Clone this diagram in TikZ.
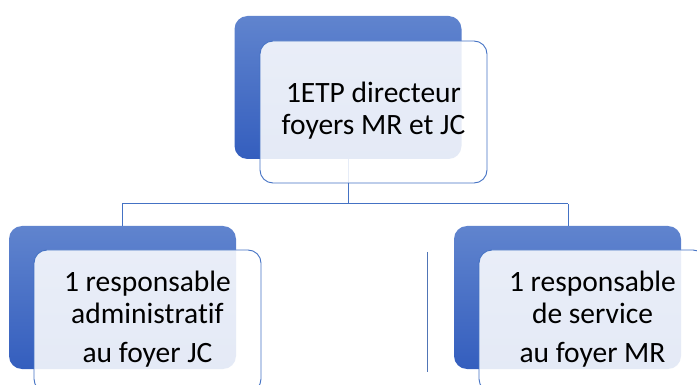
\documentclass[tikz,border=0pt]{standalone}
\usepackage{fontspec}
\setmainfont{Carlito}[Ligatures={NoCommon}]
\definecolor{bluetop}{RGB}{96,132,206}
\definecolor{bluebot}{RGB}{52,94,190}
\definecolor{lineblue}{RGB}{68,114,196}
\begin{document}
\begin{tikzpicture}[x=1pt,y=-1pt,
  backbox/.style={rounded corners=13pt, top color=bluetop, bottom color=bluebot, draw=none,
    minimum width=227pt, minimum height=143pt, inner sep=0pt, outer sep=0pt},
  frontbox/.style={rounded corners=13pt, draw=lineblue, line width=0.9pt, fill=white, fill opacity=0.87,
    minimum width=227pt, minimum height=142pt, inner sep=0pt, outer sep=0pt},
  label/.style={align=center, font=\fontsize{29.5}{32}\selectfont, inner sep=0pt, text=black},
  conn/.style={draw=lineblue, line width=1pt}]
\useasboundingbox (0,0) rectangle (697,385);
% back boxes
\node[backbox] (b0) at (348,87.5) {};
\node[backbox] (b1) at (122.5,297.5) {};
\node[backbox] (b2) at (567.5,297.5) {};
% connectors
\coordinate (h) at (348,204);
\draw[conn] (b0.south) -- (h);
\draw[conn] (122,204) -- (568,204);
\draw[conn] (b1.north -| 122,0) -- (122,204);
\draw[conn] (b2.north -| 568,0) -- (568,204);
% stray line
\coordinate (s1) at (427.5,252);
\coordinate (s2) at (427.5,372);
\draw[draw=lineblue!80!gray, line width=0.8pt] (s1) -- (s2);
% front boxes
\node[frontbox] (f0) at (373.5,112) {};
\node[frontbox] (f1) at (147.5,321) {};
\node[frontbox] (f2) at (592.5,321) {};
% texts
\node[label, anchor=base] (t0) at (373.5,135) {1ETP directeur\\foyers MR et JC};
\begin{scope}
\clip (0,0) rectangle (697,369);
\node[label, anchor=base] (t1) at (147.5,362) {1 responsable\\administratif\\[7pt]au foyer JC};
\node[label, anchor=base] (t2) at (592.5,362) {1 responsable\\de service\\[7pt]au foyer MR};
\end{scope}
\end{tikzpicture}
\end{document}
